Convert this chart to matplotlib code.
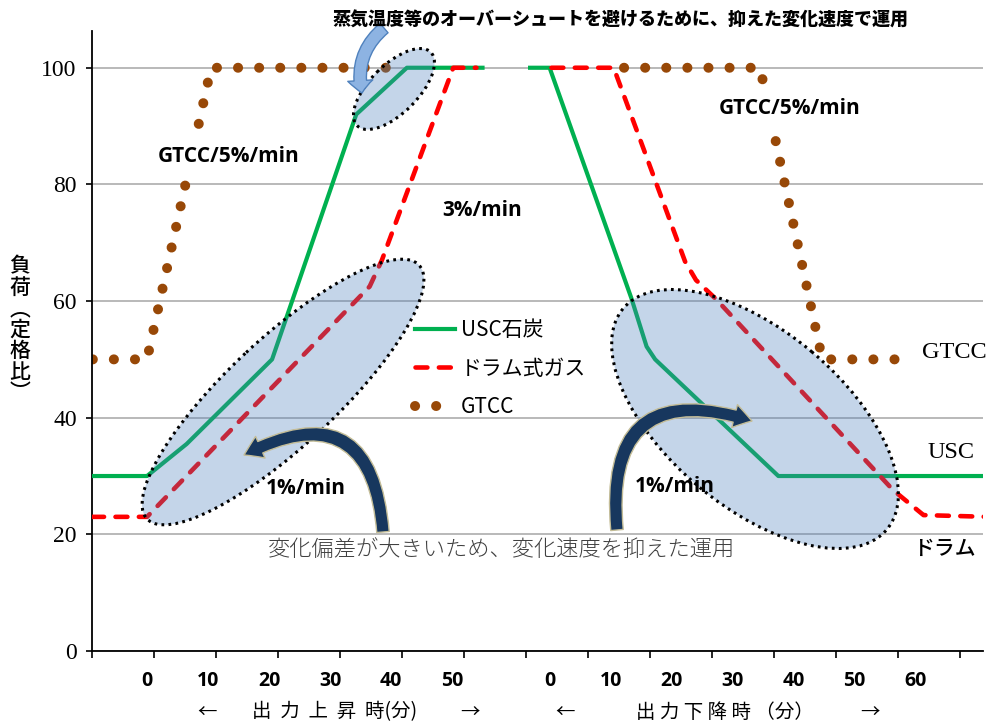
import numpy as np
import matplotlib
matplotlib.use("Agg")
import matplotlib.pyplot as plt
from matplotlib.patches import Ellipse, FancyArrowPatch, ArrowStyle

plt.rcParams['font.family'] = ['Noto Sans CJK JP', 'DejaVu Sans']

# 出力上昇時 (分, 負荷%)
usc_up_t = [-9, 0, 6.5, 20.5, 34.3, 42.6, 55]
usc_up_v = [30, 30, 35.5, 50, 92, 100, 100]
drum_up_t = [-9, 0, 36.5, 38.5, 50.2, 54]
drum_up_v = [23, 23, 62.5, 67, 100, 100]
gtcc_up_t = [-8.9, 0, 10.5, 41.8]
gtcc_up_v = [50, 50, 100, 100]

# 出力下降時 (分, 負荷%)
usc_dn_t = [-3.2, 0, 13.4, 15.9, 17.3, 37.5, 72]
usc_dn_v = [100, 100, 60.5, 52.2, 50, 30, 30]
drum_dn_t = [0.3, 10.5, 22.2, 24, 27.4, 56.3, 61.3, 72]
drum_dn_v = [100, 100, 66.8, 63.6, 60.2, 27.6, 23.3, 23]
gtcc_dn_t = [12.2, 34.5, 44.7, 56.8]
gtcc_dn_v = [100, 100, 50, 50]

down_offset = 66          # 下降時グラフの開始位置
up_ticks = [0, 10, 20, 30, 40, 50]
dn_ticks = [0, 10, 20, 30, 40, 50, 60]
y_ticks = [0, 20, 40, 60, 80, 100]

green = '#00b050'
red = '#ff0000'
brown = '#984807'

fig = plt.figure(figsize=(9.89, 7.24), dpi=100)
ax = fig.add_axes([92 / 989, 73 / 724, 891 / 989, 620 / 724])

def shift(t):
    return [v + down_offset for v in t]

# 線
l1, = ax.plot(usc_up_t, usc_up_v, color=green, lw=3, solid_joinstyle='round', zorder=3)
ax.plot(shift(usc_dn_t), usc_dn_v, color=green, lw=3, solid_joinstyle='round', zorder=3)
l2, = ax.plot(drum_up_t, drum_up_v, color=red, lw=3.3, dashes=(2.6, 2.5),
              dash_capstyle='round', zorder=4)
ax.plot(shift(drum_dn_t), drum_dn_v, color=red, lw=3.3, dashes=(2.6, 2.5),
        dash_capstyle='round', zorder=4)
l3, = ax.plot(gtcc_up_t, gtcc_up_v, color=brown, lw=7.2, dashes=(0.01, 2.1),
              dash_capstyle='round', zorder=2)
ax.plot(shift(gtcc_dn_t), gtcc_dn_v, color=brown, lw=7.2, dashes=(0.01, 2.1),
        dash_capstyle='round', zorder=2)

ax.set_xlim(-9.02, 137.05)
ax.set_ylim(0, 106.3)
ax.set_yticks(y_ticks)
ax.set_yticklabels([str(v) for v in y_ticks], family='Liberation Serif', fontsize=17)
ax.yaxis.grid(True, color='#a6a6a6', lw=1.1)
ax.set_axisbelow(True)
ax.tick_params(axis='y', direction='out', length=4, width=1.2, pad=7)
xt = [(92 + 62 * k - 147) / 6.1 for k in range(15)]
ax.set_xticks(xt)
ax.set_xticklabels([])
ax.tick_params(axis='x', direction='out', length=5, width=1.2)
for s in ['top', 'right']:
    ax.spines[s].set_visible(False)
for s in ['left', 'bottom']:
    ax.spines[s].set_linewidth(1.3)

for t in up_ticks:
    ax.text(t, -0.033, str(t), transform=ax.get_xaxis_transform(), ha='center',
            va='top', family='Open Sans', fontweight='bold', fontsize=14)
for t in dn_ticks:
    ax.text(t + down_offset, -0.033, str(t), transform=ax.get_xaxis_transform(),
            ha='center', va='top', family='Open Sans', fontweight='bold', fontsize=14)

# 重ね描き用 (ピクセル座標)
ov = fig.add_axes([0, 0, 1, 1], zorder=5)
ov.set_xlim(0, 989)
ov.set_ylim(724, 0)
ov.axis('off')
ov.patch.set_alpha(0)

leg = ax.legend([l1, l2, l3], ['USC石炭', 'ドラム式ガス', 'GTCC'], loc='upper left',
                bbox_to_anchor=(415, 319), bbox_transform=ov.transData,
                frameon=False, fontsize=15, handlelength=1.9, handletextpad=0.3,
                labelspacing=0.8, borderpad=0, borderaxespad=0)

# 下部説明
ov.text(268, 550, '変化偏差が大きいため、変化速度を抑えた運用', ha='left', va='center',
        fontsize=16, fontweight='light', color='#404040', zorder=2,
        bbox=dict(boxstyle='square,pad=0.15', fc='white', ec='none'))

# 楕円
for (cx, cy), a, b, ang in [((283, 392), 186, 54, -43), ((755, 419), 172, 88, 40),
                            ((394, 89), 52, 24, -45)]:
    ov.add_patch(Ellipse((cx, cy), 2 * a, 2 * b, angle=ang, fc='#4a7ebb', alpha=0.32,
                         ec='none', zorder=3))
    ov.add_patch(Ellipse((cx, cy), 2 * a, 2 * b, angle=ang, fc='none', ec='black',
                         lw=2.2, ls=(0, (0.9, 1.4)), zorder=3))

def curved_arrow(p0, p1, rad, fc, ec, tail, hw, hl):
    st = ArrowStyle.Simple(head_length=hl, head_width=hw, tail_width=tail)
    ov.add_patch(FancyArrowPatch(p0, p1, connectionstyle=f'arc3,rad={rad}',
                                 arrowstyle=st, mutation_scale=1, fc=fc, ec=ec,
                                 lw=1, shrinkA=0, shrinkB=0, zorder=4))

curved_arrow((383, 532), (244, 455), 0.75, '#17375e', '#c4bd97', 9, 17, 13)
curved_arrow((617, 530), (752, 421), -0.75, '#17375e', '#c4bd97', 9, 17, 13)
curved_arrow((384, 28), (362, 93), 0.3, '#8db3e2', '#4f81bd', 9, 18, 9)

# 注記
ov.text(621, 20, '蒸気温度等のオーバーシュートを避けるために、抑えた変化速度で運用',
        ha='center', va='center', fontsize=13, fontweight='heavy', zorder=6)
bold = dict(family='Open Sans', fontweight='bold', fontsize=15, ha='center',
            va='center', zorder=5)
wb = dict(boxstyle='square,pad=0.45', fc='white', ec='none')
ov.text(229, 157, 'GTCC/5%/min', bbox=wb, **bold)
ov.text(790, 108, 'GTCC/5%/min', bbox=wb, **bold)
ov.text(482, 211, '3%/min', **bold)
ov.text(306, 488, '1%/min', **bold)
ov.text(675, 487, '1%/min', **bold)

serif = dict(family='Liberation Serif', fontsize=17.5, ha='center', va='center')
ov.text(954, 352, 'GTCC', **serif)
ov.text(951, 452, 'USC', **serif)
ov.text(944, 549, 'ドラム', fontsize=15, fontweight='medium', ha='center', va='center')

# 軸ラベル
ov.text(20, 330, '負\n荷\n︵\n定\n格\n比\n︶', ha='center', va='center', fontsize=15,
        fontweight='medium', linespacing=0.95)
xl = dict(fontsize=14, ha='center', va='center')
ov.text(207, 712, '←', **xl)
ov.text(335, 712, '出  力  上  昇  時(分)', **xl)
ov.text(470, 712, '→', **xl)
ov.text(565, 712, '←', **xl)
ov.text(725, 712, '出 力 下 降 時 （分）', **xl)
ov.text(870, 712, '→', **xl)

fig.savefig('out.png', dpi=100)
